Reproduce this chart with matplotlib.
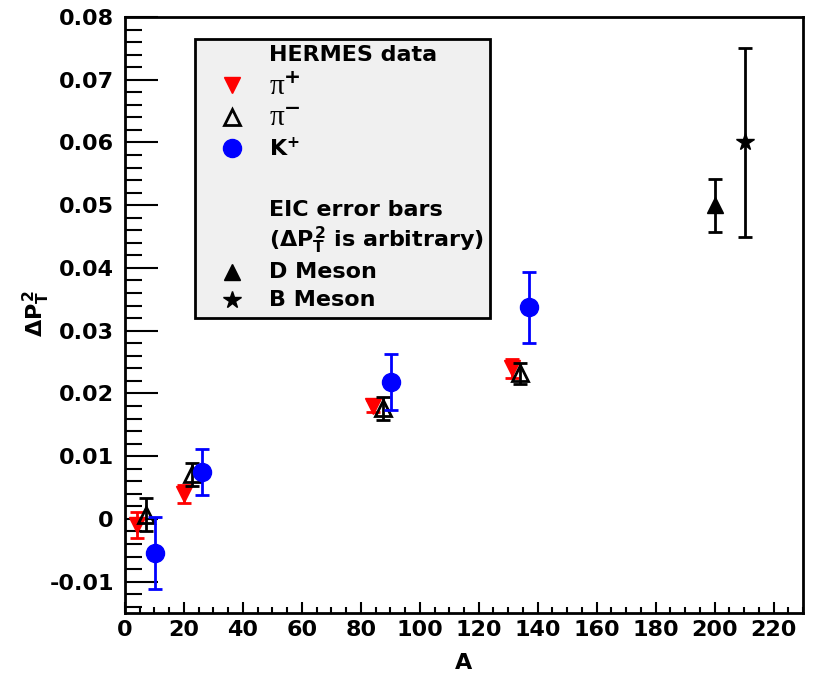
import matplotlib
matplotlib.use("Agg")
import matplotlib.pyplot as plt
from matplotlib.ticker import MultipleLocator
from matplotlib.patches import Rectangle
from matplotlib.lines import Line2D

plt.rcParams['font.family'] = ['DejaVu Sans']
plt.rcParams['font.weight'] = 'bold'
plt.rcParams['mathtext.fontset'] = 'custom'
plt.rcParams['mathtext.rm'] = 'DejaVu Sans:bold'
plt.rcParams['mathtext.it'] = 'DejaVu Sans:bold'
plt.rcParams['mathtext.bf'] = 'DejaVu Sans:bold'

# HERMES data
pip_A = [4, 20, 84, 131.4]
pip_y = [-0.0010, 0.0040, 0.0180, 0.0240]
pip_e = [0.0021, 0.0014, 0.0010, 0.0015]

pim_A = [7, 22.8, 87.5, 134.1]
pim_y = [0.0007, 0.0071, 0.0176, 0.0232]
pim_e = [0.0026, 0.0018, 0.0019, 0.0017]

kp_A = [10.2, 26.1, 90.3, 137.2]
kp_y = [-0.0054, 0.0075, 0.0218, 0.0337]
kp_e = [0.0057, 0.0037, 0.0045, 0.0056]

# EIC projections
d_A = [200]
d_y = [0.0500]
d_e = [0.0042]

b_A = [210.2]
b_y = [0.0600]
b_e = [0.0150]

fig = plt.figure(figsize=(8.14, 6.73), dpi=100)
ax = fig.add_axes([125/814, 1-613/673, (803-125)/814, (613-17)/673])
ax.set_xlim(0, 230)
ax.set_ylim(-0.015, 0.08)

common = dict(linestyle='none', elinewidth=2, capsize=5, capthick=2)
ax.errorbar(pip_A, pip_y, yerr=pip_e, marker='v', color='red', markersize=12,
            ecolor='red', **common, zorder=3)
ax.errorbar(pim_A, pim_y, yerr=pim_e, marker='^', markerfacecolor='none',
            markeredgecolor='black', markeredgewidth=2, markersize=12,
            ecolor='black', **common, zorder=4)
ax.errorbar(kp_A, kp_y, yerr=kp_e, marker='o', color='blue', markersize=13,
            ecolor='blue', **common, zorder=5)
ax.errorbar(d_A, d_y, yerr=d_e, marker='^', color='black', markersize=12,
            ecolor='black', **common, zorder=3)
ax.errorbar(b_A, b_y, yerr=b_e, marker='*', color='black', markersize=13,
            ecolor='black', **common, zorder=3)

ax.xaxis.set_major_locator(MultipleLocator(20))
ax.xaxis.set_minor_locator(MultipleLocator(5))
ax.yaxis.set_major_locator(MultipleLocator(0.01))
ax.yaxis.set_minor_locator(MultipleLocator(0.002))
ax.tick_params(axis='both', which='both', direction='in', top=False, right=False,
               width=1.5, labelsize=16)
ax.tick_params(axis='y', which='major', length=24)
ax.tick_params(axis='y', which='minor', length=12)
ax.tick_params(axis='x', which='major', length=8, pad=5)
ax.tick_params(axis='x', which='minor', length=4)
ax.tick_params(axis='y', pad=8)

def yfmt(v, pos):
    if abs(v) < 1e-9:
        return '0'
    return ('%.2f' % v)
ax.yaxis.set_major_formatter(plt.FuncFormatter(yfmt))
ax.xaxis.set_major_formatter(plt.FuncFormatter(lambda v, p: '%d' % round(v)))
for lab in ax.get_xticklabels() + ax.get_yticklabels():
    lab.set_fontweight('bold')

for s in ax.spines.values():
    s.set_linewidth(2)

ax.set_xlabel('A', fontsize=16, fontweight='bold')
ax.xaxis.set_label_coords(0.5, (613 - 653) / 596)
ax.set_ylabel(r'$\Delta P_{T}^{2}$', fontsize=16)
ax.yaxis.set_label_coords((52 - 125) / 678, (613 - 314) / 596)

# legend box (figure pixel coordinates)
W, H = 814, 673
def fx(px): return px / W
def fy(py): return 1 - py / H

fig.patches.append(Rectangle((fx(195), fy(318)), fx(490) - fx(195), fy(39) - fy(318),
                             transform=fig.transFigure, facecolor='#f0f0f0',
                             edgecolor='black', linewidth=2, zorder=10))

tx = fx(269)
mx = fx(232)
fs = 16
def txt(py, s, **kw):
    fig.text(tx, fy(py), s, fontsize=fs, fontweight='bold', va='center', ha='left',
             zorder=11, **kw)
def mk(py, **kw):
    fig.add_artist(Line2D([mx], [fy(py)], transform=fig.transFigure, linestyle='none',
                          zorder=11, **kw))

txt(55, 'HERMES data')
mk(85, marker='v', color='red', markersize=12)
fig.text(tx, fy(87), r'π$^{+}$', fontsize=21, va='center', ha='left',
         zorder=11, family='Liberation Serif', fontweight='normal')
mk(117, marker='^', markerfacecolor='none', markeredgecolor='black',
   markeredgewidth=2, markersize=12)
fig.text(tx, fy(119), r'π$^{-}$', fontsize=21, va='center', ha='left',
         zorder=11, family='Liberation Serif', fontweight='normal')
mk(148, marker='o', color='blue', markersize=13)
txt(148, r'K$^{+}$')
txt(210, 'EIC error bars')
txt(240, r'($\Delta P_{T}^{2}$ is arbitrary)')
mk(272, marker='^', color='black', markersize=12)
txt(272, 'D Meson')
mk(300, marker='*', color='black', markersize=13)
txt(300, 'B Meson')

fig.savefig('out.png', dpi=100)
